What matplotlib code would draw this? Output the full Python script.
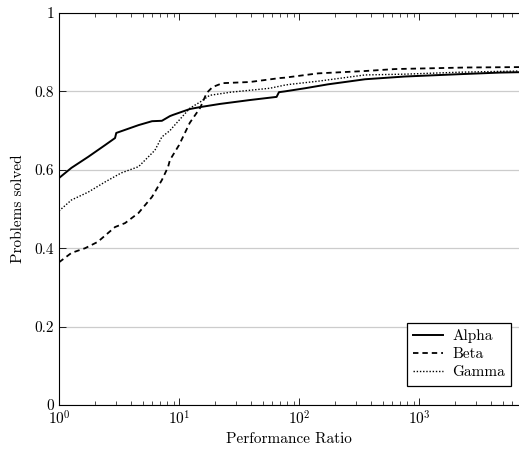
import numpy as np
import matplotlib
matplotlib.use("Agg")
import matplotlib.pyplot as plt
from matplotlib.ticker import LogLocator

plt.rcParams['font.family'] = ['cmr10', 'DejaVu Serif']
plt.rcParams['mathtext.fontset'] = 'cm'
plt.rcParams['axes.formatter.use_mathtext'] = True
plt.rcParams['font.size'] = 11

# performance profile values
alpha_x = [1, 1.27, 1.75, 2.42, 2.93, 3.0, 4.6, 5.96, 7.2, 8.4, 8.9, 12.3, 15, 21.9, 39, 65, 68, 76,
           112, 174, 355, 763, 2200, 4700, 6800]
alpha_y = [0.579, 0.605, 0.633, 0.663, 0.681, 0.694, 0.714, 0.724, 0.725, 0.737, 0.74, 0.755, 0.76, 0.768,
           0.778, 0.786, 0.798, 0.80, 0.808, 0.818, 0.831, 0.838, 0.844, 0.848, 0.849]

beta_x = [1, 1.27, 1.65, 2.1, 2.93, 3.55, 4.6, 5.96, 7.2, 8.1, 8.4, 10, 12.3, 15, 17, 19, 23, 39, 69,
          76, 144, 355, 630, 2500, 6800]
beta_y = [0.364, 0.388, 0.40, 0.416, 0.454, 0.464, 0.49, 0.531, 0.574, 0.607, 0.625, 0.663, 0.72, 0.758,
          0.796, 0.811, 0.821, 0.824, 0.834, 0.835, 0.846, 0.852, 0.857, 0.861, 0.862]

gamma_x = [1, 1.27, 1.75, 2.42, 3.3, 4.6, 6.3, 7.2, 8.4, 8.9, 12.3, 15, 18, 27, 57, 76, 84, 144, 355,
           763, 2200, 6800]
gamma_y = [0.495, 0.523, 0.543, 0.569, 0.592, 0.608, 0.65, 0.684, 0.70, 0.709, 0.757, 0.773, 0.79, 0.798,
           0.808, 0.816, 0.818, 0.826, 0.842, 0.844, 0.849, 0.852]

yticks = [0, 0.2, 0.4, 0.6, 0.8, 1]
ytick_labels = ['0', '0.2', '0.4', '0.6', '0.8', '1']

fig = plt.figure(figsize=(5.19, 4.51), dpi=100)
ax = fig.add_axes([59 / 519, 46 / 451, 1 - 59 / 519, 392 / 451])

ax.plot(alpha_x, alpha_y, color='black', linestyle='-', linewidth=1.4, label='Alpha')
ax.plot(beta_x, beta_y, color='black', linestyle=(0, (3, 2.2)), linewidth=1.3, label='Beta')
ax.plot(gamma_x, gamma_y, color='black', linestyle=(0, (1, 1.3)), linewidth=1.0, label='Gamma')

ax.set_xscale('log')
ax.set_xlim(1, 6800)
ax.set_ylim(0, 1)
ax.set_yticks(yticks)
ax.set_yticklabels(ytick_labels)
ax.xaxis.set_major_locator(LogLocator(base=10, numticks=10))
ax.xaxis.set_minor_locator(LogLocator(base=10, subs=np.arange(2, 10), numticks=10))
ax.yaxis.grid(True, color='#cccccc', linewidth=0.9)
ax.set_axisbelow(True)

ax.tick_params(which='both', direction='in', top=True, right=False, colors='black', labelsize=11)
ax.tick_params(which='major', length=5, width=0.6)
ax.tick_params(which='minor', length=3, width=0.5)
ax.spines['right'].set_visible(False)
for s in ['left', 'bottom', 'top']:
    ax.spines[s].set_linewidth(0.8)

ax.set_xlabel('Performance Ratio', fontsize=11, labelpad=3)
ax.set_ylabel('Problems solved', fontsize=11, labelpad=7)

leg = ax.legend(loc='lower right', bbox_to_anchor=(1.0, 0.03), fancybox=False, framealpha=1,
                edgecolor='black', handlelength=2.0, handletextpad=0.6, borderpad=0.4,
                labelspacing=0.3, fontsize=11)
leg.get_frame().set_linewidth(0.9)

fig.savefig('out.png', dpi=100)
